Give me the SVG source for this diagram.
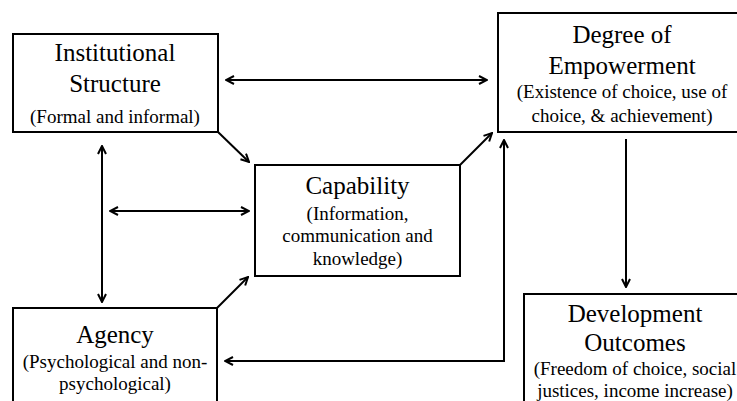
<svg xmlns="http://www.w3.org/2000/svg" width="737" height="401" viewBox="0 0 737 401">
<style>
.box{fill:#fff;stroke:#000;stroke-width:2}
.t{font-family:'Liberation Serif','Times New Roman','DejaVu Serif',serif;font-size:25px;fill:#000;text-anchor:middle}
.s{font-family:'Liberation Serif','Times New Roman','DejaVu Serif',serif;font-size:19px;fill:#000;text-anchor:middle}
.c{fill:none;stroke:#000;stroke-width:2}
</style>
<defs>
<marker id="ah" viewBox="0 0 10 10" refX="9" refY="5" markerWidth="10" markerHeight="10" markerUnits="userSpaceOnUse" orient="auto-start-reverse">
<path d="M1,1 L9,5 L1,9" fill="none" stroke="#000" stroke-width="2"/>
</marker>
</defs>
<rect width="737" height="401" fill="#fff"/>
<g id="connectors">
<path class="c" d="M226,80 L487,80" marker-start="url(#ah)" marker-end="url(#ah)"/>
<path class="c" d="M218,132 L249,162" marker-end="url(#ah)"/>
<path class="c" d="M102,146 L102,302" marker-start="url(#ah)" marker-end="url(#ah)"/>
<path class="c" d="M110,211 L249,211" marker-start="url(#ah)" marker-end="url(#ah)"/>
<path class="c" d="M217,308 L248,277" marker-end="url(#ah)"/>
<path class="c" d="M460,165 L492,133" marker-end="url(#ah)"/>
<path class="c" d="M225,361 L504,361 L504,140" marker-start="url(#ah)" marker-end="url(#ah)"/>
<path class="c" d="M626,139 L626,287" marker-end="url(#ah)"/>
</g>
<g id="institutional">
<rect class="box" x="13" y="34" width="205" height="98"/>
<text class="t" x="115" y="61">Institutional</text>
<text class="t" x="115" y="92">Structure</text>
<text class="s" x="115" y="123">(Formal and informal)</text>
</g>
<g id="empowerment">
<rect class="box" x="498" y="13" width="252" height="119"/>
<text class="t" x="622" y="43">Degree of</text>
<text class="t" x="622" y="74">Empowerment</text>
<text class="s" x="622" y="98">(Existence of choice, use of</text>
<text class="s" x="622" y="122">choice, &amp; achievement)</text>
</g>
<g id="capability">
<rect class="box" x="255" y="165" width="205" height="111"/>
<text class="t" x="357.5" y="194">Capability</text>
<text class="s" x="357.5" y="220">(Information,</text>
<text class="s" x="357.5" y="242">communication and</text>
<text class="s" x="357.5" y="265">knowledge)</text>
</g>
<g id="agency">
<rect class="box" x="13" y="308" width="204" height="100"/>
<text class="t" x="115" y="343">Agency</text>
<text class="s" x="115" y="368">(Psychological and non-</text>
<text class="s" x="115" y="390">psychological)</text>
</g>
<g id="outcomes">
<rect class="box" x="524" y="294" width="230" height="120"/>
<text class="t" x="635" y="322">Development</text>
<text class="t" x="635" y="351">Outcomes</text>
<text class="s" x="635" y="375">(Freedom of choice, social</text>
<text class="s" x="635" y="397">justices, income increase)</text>
</g>
</svg>
